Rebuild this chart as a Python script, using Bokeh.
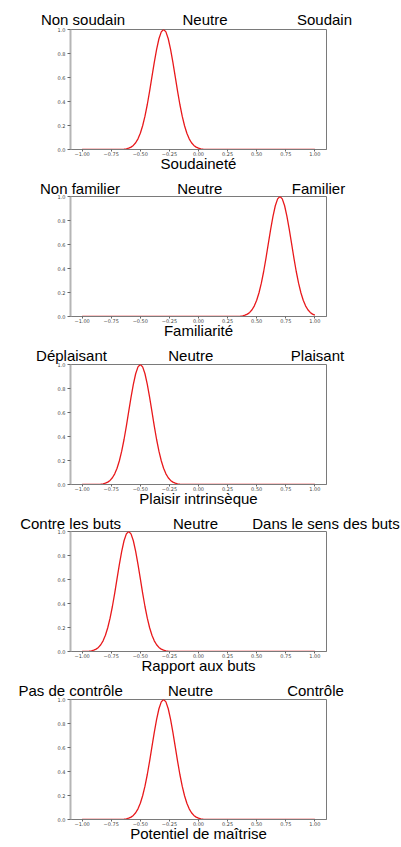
from bokeh.plotting import figure
from bokeh.models import Range1d, FixedTicker, LinearAxis
from bokeh.layouts import column
from bokeh.embed import file_html
from bokeh.resources import INLINE

# ---------------- data ----------------
axis_titles = ["Soudaineté", "Familiarité", "Plaisir intrinsèque",
               "Rapport aux buts", "Potentiel de maîtrise"]
left_labels = ["Non soudain", "Non familier", "Déplaisant",
               "Contre les buts", "Pas de contrôle"]
mid_labels = ["Neutre", "Neutre", "Neutre", "Neutre", "Neutre"]
right_labels = ["Soudain", "Familier", "Plaisant",
                "Dans le sens des buts", "Contrôle"]

# position of each curve's peak on the -1..1 scale
peak_centers = [-0.3, 0.7, -0.5, -0.6, -0.3]

# bell profile: height at a distance from the peak
profile_offsets = [0.00, 0.02, 0.04, 0.06, 0.08, 0.10, 0.12, 0.14, 0.16, 0.18,
                   0.20, 0.22, 0.24, 0.26, 0.28, 0.30, 0.32, 0.34, 0.36, 0.38, 0.40]
profile_heights = [1.000, 0.980, 0.923, 0.835, 0.726, 0.607, 0.487, 0.375, 0.278, 0.198,
                   0.135, 0.089, 0.056, 0.034, 0.020, 0.011, 0.006, 0.003, 0.0015, 0.0007, 0.0003]

x_ticks = [-1.0, -0.75, -0.5, -0.25, 0.0, 0.25, 0.5, 0.75, 1.0]
x_tick_labels = ["\u22121.00", "\u22120.75", "\u22120.50", "\u22120.25", "0.00",
                 "0.25", "0.50", "0.75", "1.00"]
y_ticks = [0.0, 0.2, 0.4, 0.6, 0.8, 1.0]
y_tick_labels = ["0.0", "0.2", "0.4", "0.6", "0.8", "1.0"]

# ---------------- layout / style ----------------
W = 401
FRAME_H = 120
border_tops = [29, 21, 22, 21, 22]
border_bottoms = [26, 26, 26, 26, 28]
top_standoffs = [2, 0, 1, 0, 1]
BORDER_L, BORDER_R = 70, 75
FRAME_W = W - BORDER_L - BORDER_R
X_START, X_END = -1.1, 1.1
label_font = "Liberation Sans"

# centre of each top label, in px from the figure's left edge
top_px = [(82.5, 204.5, 324), (79.5, 199.3, 318), (71, 190.3, 317),
          (61, 195, 325.5), (63, 190, 315)]


def px_to_x(px):
    # layout helper: a pixel column of the frame expressed on the x scale
    v = X_START + (px - BORDER_L) / FRAME_W * (X_END - X_START)
    return round(min(max(v, X_START + 0.001), X_END - 0.001), 4)


def curve(center):
    pts = []
    for d, h in zip(profile_offsets, profile_heights):
        for x in ({round(center - d, 6), round(center + d, 6)}):
            if -1.0 - 1e-9 <= x <= 1.0 + 1e-9:
                pts.append((x, h))
    pts.sort()
    if pts[0][0] > -1.0:
        pts.insert(0, (-1.0, 0.0))
    if pts[-1][0] < 1.0:
        pts.append((1.0, 0.0))
    return [p[0] for p in pts], [p[1] for p in pts]


figs = []
for i in range(5):
    bt = border_tops[i]
    bb = border_bottoms[i]
    p = figure(width=W, height=bt + FRAME_H + bb, output_backend="svg",
               toolbar_location=None,
               x_range=Range1d(X_START, X_END), y_range=Range1d(0, 1),
               min_border_left=BORDER_L, min_border_right=BORDER_R,
               min_border_top=bt, min_border_bottom=bb)
    p.xgrid.visible = False
    p.ygrid.visible = False
    p.outline_line_color = "#7a7a7a"
    p.outline_line_width = 1
    p.background_fill_color = "white"
    p.border_fill_color = "white"

    xs, ys = curve(peak_centers[i])
    p.line(xs, ys, line_color="#e8191c", line_width=1.3)

    p.xaxis.ticker = FixedTicker(ticks=x_ticks)
    p.xaxis.major_label_overrides = dict(zip(x_ticks, x_tick_labels))
    p.yaxis.ticker = FixedTicker(ticks=y_ticks)
    p.yaxis.major_label_overrides = dict(zip(y_ticks, y_tick_labels))
    for ax in (p.xaxis[0], p.yaxis[0]):
        ax.minor_tick_line_color = None
        ax.major_tick_in = 0
        ax.major_tick_line_color = "#666666"
        ax.major_label_text_font = "DejaVu Sans"
        ax.major_label_text_font_size = "5px"
        ax.major_label_text_color = "#444444"
    p.yaxis.major_tick_out = 3
    p.yaxis.major_label_standoff = 2
    p.xaxis.major_tick_out = 2
    p.xaxis.major_label_standoff = 0
    p.xaxis.axis_line_color = "#7a7a7a"
    p.yaxis.axis_line_color = "#b5b5b5"
    p.yaxis.axis_line_width = 2

    # bottom title of the panel
    p.xaxis.axis_label = axis_titles[i]
    p.xaxis.axis_label_text_font = label_font
    p.xaxis.axis_label_text_font_size = "15px"
    p.xaxis.axis_label_text_font_style = "normal"
    p.xaxis.axis_label_text_color = "black"
    p.xaxis.axis_label_standoff = -4

    # the three anchor words above the panel
    tick_pos = [px_to_x(v) for v in top_px[i]]
    words = [left_labels[i], mid_labels[i], right_labels[i]]
    top_axis = LinearAxis(ticker=FixedTicker(ticks=tick_pos),
                          major_label_overrides=dict(zip(tick_pos, words)),
                          axis_line_color=None, major_tick_line_color=None,
                          minor_tick_line_color=None,
                          major_tick_in=0, major_tick_out=0,
                          major_label_standoff=top_standoffs[i],
                          major_label_text_font=label_font,
                          major_label_text_font_size="15px",
                          major_label_text_color="black")
    p.add_layout(top_axis, "above")
    figs.append(p)

layout = column(*figs, spacing=0)
open("out.html", "w").write(file_html(layout, INLINE))
